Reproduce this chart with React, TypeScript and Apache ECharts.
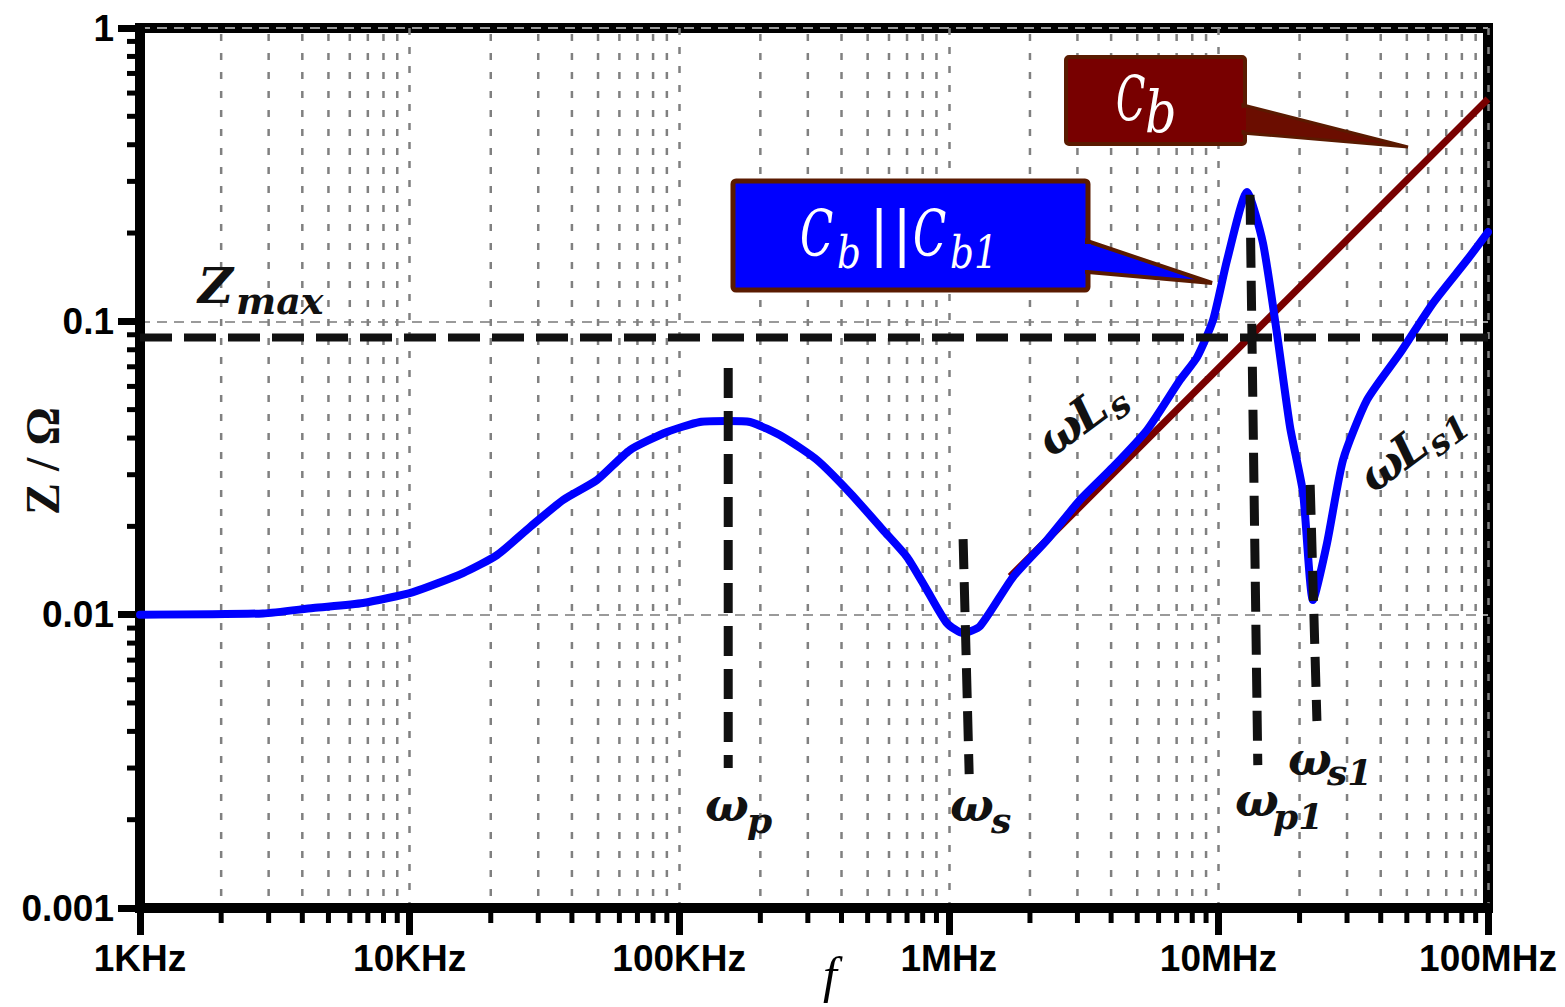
import React, { useEffect, useRef } from 'react';
import * as echarts from 'echarts';

// ---------- axis ranges / tick labels ----------
const X_MIN = 1e3;
const X_MAX = 1e8;
const Y_MIN = 1e-3;
const Y_MAX = 1;
const xTickExps = [3, 4, 5, 6, 7, 8];
const xTickLabels = ['1KHz', '10KHz', '100KHz', '1MHz', '10MHz', '100MHz'];
const yTickExps = [-3, -2, -1, 0];
const yTickLabels = ['0.001', '0.01', '0.1', '1'];
const minorMultipliers = [2, 3, 4, 5, 6, 7, 8, 9];
const xDecades = [1e3, 1e4, 1e5, 1e6, 1e7];
const yDecades = [1e-3, 1e-2, 1e-1];

// ---------- series: |Z| of Cb || Cb1 (blue) ----------
const freqHz = [
  1e3, 2860, 4385, 6717, 10300, 15780, 21090, 27980, 37090, 49550, 65660, 90130,
  119400, 150400, 183200, 242800, 324500, 430300, 570400, 700000, 830000, 984000,
  1.13e6, 1.306e6, 1.73e6, 2.312e6, 3.066e6, 4.064e6, 5.433e6, 7.206e6, 8.337e6, 9.55e6,
  1.077e7, 1.277e7, 1.463e7, 1.648e7, 1.844e7, 2.061e7, 2.244e7, 2.529e7, 2.899e7,
  3.559e7, 4.718e7, 6.252e7, 8.359e7, 1e8,
];
const zParallel = [
  0.01, 0.0101, 0.01054, 0.01096, 0.01194, 0.01386, 0.01596, 0.0199, 0.0246, 0.02877, 0.0364, 0.04195,
  0.04537, 0.04571, 0.04537, 0.04034, 0.03367, 0.026, 0.01943, 0.01571, 0.01213, 0.00936,
  0.00865, 0.00914, 0.01343, 0.01795, 0.0246, 0.03185, 0.04258, 0.0631, 0.07553, 0.1009,
  0.1618, 0.2759, 0.1849, 0.0912, 0.04363, 0.026, 0.01122, 0.01754, 0.03367,
  0.05395, 0.07796, 0.1154, 0.1618, 0.2015,
];

// ---------- series: |Z| of Cb alone (dark red) ----------
const cbFreq = [1.69e6, 1e8];
const cbZ = [0.0135, 0.573];

// ---------- Zmax ----------
const zMax = 0.088;

// ---------- resonance markers ----------
const markerNames = ['ωp', 'ωs', 'ωp1', 'ωs1'];
const markerFreqTop = [1.52e5, 1.13e6, 1.31e7, 2.19e7];
const markerFreqBottom = [1.52e5, 1.19e6, 1.4e7, 2.32e7];
const markerZTop = [0.0693, 0.0181, 0.27, 0.0277];
const markerZBottom = [0.003, 0.00286, 0.00307, 0.00434];

const mathFont = '"DejaVu Serif", serif';
const sansFont = '"Liberation Sans", Arial, sans-serif';
const serifFont = '"Liberation Serif", "Times New Roman", serif';

const xMinorTicks: number[] = [];
xDecades.forEach((d) => minorMultipliers.forEach((m) => xMinorTicks.push(d * m)));
const yMinorTicks: number[] = [];
yDecades.forEach((d) => minorMultipliers.forEach((m) => yMinorTicks.push(d * m)));

const labelFor = (exps: number[], labels: string[]) => (v: number) => {
  const e = Math.round(Math.log10(v));
  const i = exps.indexOf(e);
  return i >= 0 ? labels[i] : '';
};

const txt = (
  text: string,
  x: number,
  y: number,
  fontSize: number,
  o: { bold?: boolean; italic?: boolean; fill?: string; scaleX?: number; font?: string } = {}
) => ({
  type: 'text',
  x,
  y,
  z: 30,
  scaleX: o.scaleX ?? 1,
  silent: true,
  style: {
    text,
    fill: o.fill ?? '#111',
    fontSize,
    fontFamily: o.font ?? mathFont,
    fontStyle: o.italic === false ? 'normal' : 'italic',
    fontWeight: o.bold ? 'bold' : 'normal',
    textAlign: 'left',
    textVerticalAlign: 'middle',
  },
});

const buildOption = () => {
  const markerSeries = markerNames.map((n, i) => ({
    type: 'line',
    name: n,
    data: [
      [markerFreqTop[i], markerZTop[i]],
      [markerFreqBottom[i], markerZBottom[i]],
    ],
    symbol: 'none',
    silent: true,
    z: 6,
    lineStyle: { color: '#111', width: 9, type: [30, 13], cap: 'butt' },
  }));

  return {
    animation: false,
    backgroundColor: '#ffffff',
    grid: {
      left: 140,
      top: 28,
      width: 1348,
      height: 880,
      show: true,
      borderColor: '#000',
      borderWidth: 10,
      backgroundColor: 'transparent',
      containLabel: false,
      outerBoundsMode: 'none',
    },
    xAxis: {
      type: 'log',
      logBase: 10,
      min: X_MIN,
      max: X_MAX,
      name: 'f',
      nameLocation: 'middle',
      nameGap: 42,
      nameMoveOverlap: false,
      nameTextStyle: {
        fontFamily: serifFont,
        fontStyle: 'italic',
        fontSize: 50,
        color: '#000',
        padding: [0, 0, 0, 32],
      },
      axisLine: { lineStyle: { color: '#000', width: 10 } },
      axisTick: { length: 27, lineStyle: { color: '#000', width: 7 } },
      axisLabel: {
        formatter: labelFor(xTickExps, xTickLabels),
        fontFamily: sansFont,
        fontWeight: 'bold',
        fontSize: 37,
        color: '#000',
        margin: 32,
        showMinLabel: true,
        showMaxLabel: true,
      },
      splitLine: { show: true, lineStyle: { color: '#808080', width: 2.5, type: [7, 12] } },
    },
    yAxis: {
      type: 'log',
      logBase: 10,
      min: Y_MIN,
      max: Y_MAX,
      name: 'Z / Ω',
      nameLocation: 'middle',
      nameRotate: 90,
      nameGap: 74,
      nameMoveOverlap: false,
      nameTextStyle: { fontFamily: serifFont, fontWeight: 'bold', fontSize: 48, color: '#111', padding: [0, 0, 0, 14] },
      axisLine: { lineStyle: { color: '#000', width: 10 } },
      axisTick: { length: 22, lineStyle: { color: '#000', width: 7 } },
      axisLabel: {
        formatter: labelFor(yTickExps, yTickLabels),
        fontFamily: sansFont,
        fontWeight: 'bold',
        fontSize: 37,
        color: '#000',
        margin: 26,
        showMinLabel: true,
        showMaxLabel: true,
      },
      splitLine: { show: true, lineStyle: { color: '#9a9a9a', width: 2, type: [10, 7] } },
    },
    series: [
      {
        type: 'custom',
        name: 'x minor grid',
        coordinateSystem: 'cartesian2d',
        silent: true,
        clip: false,
        z: 1,
        data: xMinorTicks.map((v) => [v, Y_MIN]),
        renderItem: (params: any, api: any) => {
          const v = api.value(0);
          const b = api.coord([v, Y_MIN]);
          const t = api.coord([v, Y_MAX]);
          return {
            type: 'group',
            children: [
              {
                type: 'line',
                shape: { x1: b[0], y1: t[1] + 6, x2: b[0], y2: b[1] - 6 },
                style: { stroke: '#808080', lineWidth: 2.5, lineDash: [7, 12] },
              },
              {
                type: 'line',
                shape: { x1: b[0], y1: b[1], x2: b[0], y2: b[1] + 15 },
                style: { stroke: '#000', lineWidth: 5 },
              },
            ],
          };
        },
      },
      {
        type: 'custom',
        name: 'y minor ticks',
        coordinateSystem: 'cartesian2d',
        silent: true,
        clip: false,
        z: 1,
        data: yMinorTicks.map((v) => [X_MIN, v]),
        renderItem: (params: any, api: any) => {
          const p = api.coord([X_MIN, api.value(1)]);
          return {
            type: 'line',
            shape: { x1: p[0] - 13, y1: p[1], x2: p[0], y2: p[1] },
            style: { stroke: '#000', lineWidth: 5 },
          };
        },
      },
      {
        type: 'line',
        name: 'Cb',
        data: cbFreq.map((f, i) => [f, cbZ[i]]),
        symbol: 'none',
        silent: true,
        z: 3,
        lineStyle: { color: '#780000', width: 7 },
      },
      {
        type: 'line',
        name: 'Cb||Cb1',
        data: freqHz.map((f, i) => [f, zParallel[i]]),
        symbol: 'none',
        smooth: 0.2,
        silent: true,
        z: 4,
        lineStyle: { color: '#0000ff', width: 8, join: 'round', cap: 'round' },
      },
      {
        type: 'line',
        name: 'Zmax',
        data: [
          [X_MIN, zMax],
          [X_MAX, zMax],
        ],
        symbol: 'none',
        silent: true,
        z: 5,
        lineStyle: { color: '#111', width: 8, type: [32, 12], cap: 'butt' },
      },
      ...markerSeries,
    ],
    graphic: [
      // Zmax label
      txt('Z', 198, 286, 48, { bold: true }),
      txt('max', 236, 300, 38, { bold: true }),
      // resonance labels
      txt('ω', 705, 805, 46, { bold: true }),
      txt('p', 747, 820, 36, { bold: true }),
      txt('ω', 950, 805, 46, { bold: true }),
      txt('s', 991, 820, 36, { bold: true }),
      txt('ω', 1235, 800, 46, { bold: true }),
      txt('p1', 1273, 816, 36, { bold: true }),
      txt('ω', 1288, 759, 46, { bold: true }),
      txt('s1', 1327, 772, 36, { bold: true }),
      // ωLs (rotated)
      {
        type: 'group',
        x: 1050,
        y: 456,
        rotation: 0.64,
        children: [
          txt('ω', 0, -13, 47, { bold: true }),
          txt('L', 41, -13, 47, { bold: true }),
          txt('s', 76, 0, 35, { bold: true }),
        ],
      },
      {
        type: 'group',
        x: 1372,
        y: 492,
        rotation: 0.64,
        children: [
          txt('ω', 0, -13, 46, { bold: true }),
          txt('L', 40, -13, 46, { bold: true }),
          txt('s1', 74, 0, 34, { bold: true }),
        ],
      },
      // Cb callout
      {
        type: 'rect',
        z: 20,
        shape: { x: 1066, y: 57, width: 179, height: 87, r: 3 },
        style: { fill: '#780000', stroke: '#5a1a00', lineWidth: 4 },
      },
      {
        type: 'polygon',
        z: 21,
        shape: { points: [[1243, 105], [1408, 147], [1243, 133]] },
        style: { fill: '#6b0d00', stroke: '#5a1a00', lineWidth: 3 },
      },
      {
        type: 'rect',
        z: 22,
        shape: { x: 1238, y: 108, width: 8, height: 22 },
        style: { fill: '#780000' },
      },
      txt('C', 1116, 98, 62, { fill: '#ffffff', scaleX: 0.62 }),
      txt('b', 1145, 112, 58, { fill: '#ffffff', scaleX: 0.85 }),
      // Cb || Cb1 callout
      {
        type: 'rect',
        z: 20,
        shape: { x: 733, y: 181, width: 355, height: 109, r: 3 },
        style: { fill: '#0000ff', stroke: '#5a1a00', lineWidth: 5 },
      },
      {
        type: 'polygon',
        z: 21,
        shape: { points: [[1087, 241], [1212, 283], [1087, 272]] },
        style: { fill: '#0000ff', stroke: '#5a1a00', lineWidth: 4 },
      },
      {
        type: 'rect',
        z: 22,
        shape: { x: 1081, y: 244, width: 10, height: 26 },
        style: { fill: '#0000ff' },
      },
      txt('C', 800, 234, 64, { fill: '#ffffff', scaleX: 0.68 }),
      txt('b', 837, 253, 44, { fill: '#ffffff', scaleX: 0.85 }),
      txt('|', 869, 233, 60, { fill: '#ffffff', italic: false }),
      txt('|', 892, 233, 60, { fill: '#ffffff', italic: false }),
      txt('C', 913, 234, 64, { fill: '#ffffff', scaleX: 0.68 }),
      txt('b1', 950, 253, 44, { fill: '#ffffff', scaleX: 0.85 }),
    ],
  };
};

export default function App() {
  const ref = useRef<HTMLDivElement>(null);
  useEffect(() => {
    if (!ref.current) return;
    const chart = echarts.init(ref.current, undefined, { renderer: 'svg' });
    chart.setOption(buildOption() as any);
    return () => chart.dispose();
  }, []);
  return (
    <div
      ref={ref}
      style={{ position: 'fixed', left: 0, top: 0, width: 1565, height: 1007, background: '#fff' }}
    />
  );
}
